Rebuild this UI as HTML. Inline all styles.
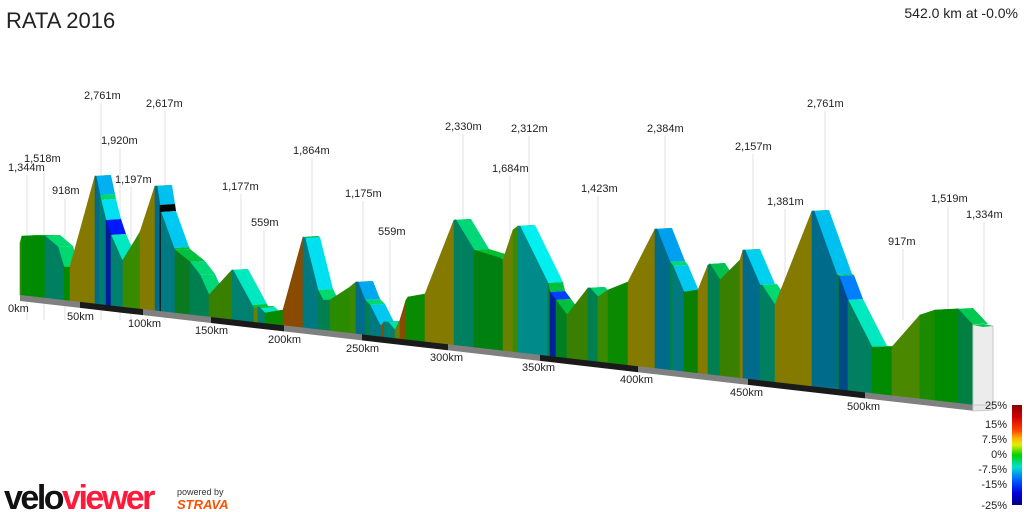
<!DOCTYPE html>
<html><head><meta charset="utf-8"><style>
body{margin:0;width:1024px;height:512px;background:#fff;overflow:hidden;font-family:"Liberation Sans",sans-serif}
svg{position:absolute;left:0;top:0}
</style></head><body>
<svg id="s" width="1024" height="512" xmlns="http://www.w3.org/2000/svg">
<defs><linearGradient id="g" x1="0" y1="0" x2="0" y2="1">
<stop offset="0" stop-color="#8a0000"/><stop offset="0.12" stop-color="#d00000"/><stop offset="0.25" stop-color="#ff4000"/><stop offset="0.33" stop-color="#ffb000"/><stop offset="0.4" stop-color="#e0f000"/><stop offset="0.5" stop-color="#00d000"/><stop offset="0.62" stop-color="#00e0d0"/><stop offset="0.75" stop-color="#0060ff"/><stop offset="0.88" stop-color="#0000e0"/><stop offset="1" stop-color="#000080"/></linearGradient></defs>
<text x="6" y="28" font-size="22" fill="#222">RATA 2016</text>
<text x="1018" y="18" font-size="14" fill="#222" text-anchor="end">542.0 km at -0.0%</text>
<g id="lead" stroke="#e2e2e2" stroke-width="1"></g>
<g id="prof"></g>
<g id="lab" font-size="11" fill="#222"></g>
<rect x="1012" y="405" width="10" height="100" fill="url(#g)"/>
<g font-size="11" fill="#222" text-anchor="end">
<text x="1007" y="409">25%</text><text x="1007" y="428">15%</text><text x="1007" y="443">7.5%</text><text x="1007" y="458">0%</text><text x="1007" y="473">-7.5%</text><text x="1007" y="488">-15%</text><text x="1007" y="509">-25%</text></g>
<text x="4" y="509" font-size="34" font-weight="bold" letter-spacing="-2.5" fill="#111">velo<tspan fill="#ff1a3c">viewer</tspan></text>
<text x="177" y="495" font-size="9" fill="#333">powered by</text>
<text x="177" y="509" font-size="13" font-weight="bold" font-style="italic" fill="#fc5200">STRAVA</text>
</svg>
<script>
var P=[[20,243],[22,236,'#2a8a10'],[45,236,'#008a00','#00b020'],[58,247,'#008060','#00d870'],[64,267,'#008060','#00d870'],[70,267,'#008a00'],[95,176,'#857a00'],[96,176,'#006b8a'],
[100,195,'#006b8a','#00b0f0'],[101,200,'#008a50','#00d870'],[106,220,'#007a80','#00e0f0'],[111,235,'#001a9a','#0018ff'],[122,260,'#008070','#00e8c0'],[123,260,'#008070'],[140,232,'#3a8a00'],[155,186,'#857a00'],[157,186,'#006b8a'],
[160,205,'#006b8a','#00c0f0'],[161,212,'#000','#000'],[174,248,'#007a80','#00c8f0'],[175,250,'#007a80'],[190,262,'#0a7a20','#00c040'],[200,275,'#008050','#00d878'],[209,295,'#008050','#00d878'],[232,270,'#3a8000'],[233,270,'#008070'],[252,305,'#008070','#00e8c0'],[254,309,'#008070'],[258,307,'#6a8000'],[260,308,'#008070'],[265,313,'#008070','#00e8c0'],[283,310,'#0a8a00'],
[303,237,'#8a4a00'],[305,238,'#007a80'],[318,290,'#007a80','#00e0f0'],[323,300,'#008050','#00d870'],[330,300,'#008050'],[350,287,'#2a8a00'],[356,282,'#3a8a00'],[358,282,'#006b8a'],[365,300,'#006b8a','#00a8f0'],[370,305,'#008050','#00d870'],[380,325,'#007a80','#00c8f0'],[382,325,'#007a80'],[384,322,'#8a4a00'],[388,322,'#008070'],[395,330,'#008070','#00e0b0'],[400,320,'#6a8000'],[406,300,'#8a4a00'],[408,297,'#0a8a00'],[425,294,'#0a8a00'],
[454,220,'#857a00'],[456,220,'#008060'],[474,250,'#008060','#00d878'],[500,258,'#008010','#00c030'],[503,260,'#008010'],[513,230,'#6a8000'],[518,226,'#3a8a00'],[520,226,'#008a8a'],[548,283,'#008a8a','#00f0f0'],[550,292,'#0a8030','#00c040'],[556,300,'#0020a0','#0040ff'],[567,315,'#008020','#00c040'],[588,288,'#3a8000'],[590,288,'#008050'],[598,297,'#008050','#00d070'],[608,290,'#3a8a00'],[628,282,'#0a8a00'],
[655,229,'#857a00'],[657,229,'#006b8a'],[670,262,'#006b8a','#00a0f0'],[673,266,'#008050','#00d870'],[684,292,'#007a80','#00c8f0'],[698,290,'#0a8000'],[708,265,'#857a00'],[710,264,'#008050'],[720,280,'#008050','#00c050'],[740,260,'#3a8000'],[743,250,'#857a00'],[745,250,'#006b8a'],[760,285,'#006b8a','#00d0f0'],[762,285,'#008060'],[775,305,'#008060','#00d870'],
[812,211,'#857a00'],[814,211,'#006b8a'],[837,275,'#006b8a','#00c0f0'],[839,276,'#008040','#00c050'],[848,300,'#004a8a','#0080ff'],[872,347,'#008060','#00e8c0'],[892,347,'#008a00'],[920,315,'#4a8800'],[935,310,'#1a8a00'],[958,309,'#008a00'],[973,325,'#008040','#00c850']];
function b(x){return 295+(x-20)*0.1152;}
var s='',dx=15,dy=-1;
for(var i=1;i<P.length;i++){var a=P[i-1],c=P[i];var cap=c[3]||'#00c040';
 s+='<polygon points="'+a[0]+','+a[1]+' '+c[0]+','+c[1]+' '+(c[0]+dx)+','+(c[1]+dy)+' '+(a[0]+dx)+','+(a[1]+dy)+'" fill="'+cap+'"/>';}
for(var i=1;i<P.length;i++){var a=P[i-1],c=P[i];
 s+='<polygon points="'+a[0]+','+a[1]+' '+c[0]+','+c[1]+' '+c[0]+','+b(c[0])+' '+a[0]+','+b(a[0])+'" fill="'+c[2]+'" stroke="'+c[2]+'" stroke-width="0.6"/>';}
s+='<polygon points="973,325 983,324 993,326 993,405 973,405" fill="#ececec" stroke="#c8c8c8"/>';
s+='<polygon points="973,325 983,324 993,326 983,327" fill="#00c850"/>';
var K=[[0,20],[50,80],[100,143],[150,211],[200,284],[250,362],[300,448],[350,540],[400,638],[450,748],[500,865],[542,973]];
for(var i=1;i<K.length;i++){var x1=K[i-1][1],x2=K[i][1];var col=(i%2==0)?'#1a1a1a':'#808080';
 s+='<polygon points="'+x1+','+b(x1)+' '+x2+','+b(x2)+' '+x2+','+(b(x2)+6)+' '+x1+','+(b(x1)+6)+'" fill="'+col+'"/>';}
s+='<polygon points="973,405 993,405 993,410 973,411" fill="#e8e8e8" stroke="#c8c8c8"/>';
document.getElementById('prof').innerHTML=s;
var KL=[['0km',8,312],['50km',67,320],['100km',128,327],['150km',195,334],['200km',268,343],['250km',346,352],['300km',430,361],['350km',522,371],['400km',620,383],['450km',730,396],['500km',847,410]];
var L=[['1,344m',8,171,27],['1,518m',24,162,44],['918m',52,194,65],['2,761m',84,99,101],['1,920m',101,144,120],['1,197m',115,183,131],['2,617m',146,107,165],['1,177m',222,190,241],['559m',251,226,264],['1,864m',293,154,312],['1,175m',345,197,363],['559m',378,235,390],['2,330m',445,130,463],['2,312m',511,132,529],['1,684m',492,172,510],['1,423m',581,192,598],['2,384m',647,132,665],['2,157m',735,150,753],['1,381m',767,205,785],['2,761m',807,107,825],['917m',888,245,903],['1,519m',931,202,948],['1,334m',966,218,984]];
var t='',l='';
KL.forEach(function(k){t+='<text x="'+k[1]+'" y="'+k[2]+'">'+k[0]+'</text>';});
L.forEach(function(k){t+='<text x="'+k[1]+'" y="'+k[2]+'">'+k[0]+'</text>';l+='<line x1="'+k[3]+'" y1="'+(k[2]+4)+'" x2="'+k[3]+'" y2="320"/>';});
document.getElementById('lab').innerHTML=t;document.getElementById('lead').innerHTML=l;
</script>
</body></html>
